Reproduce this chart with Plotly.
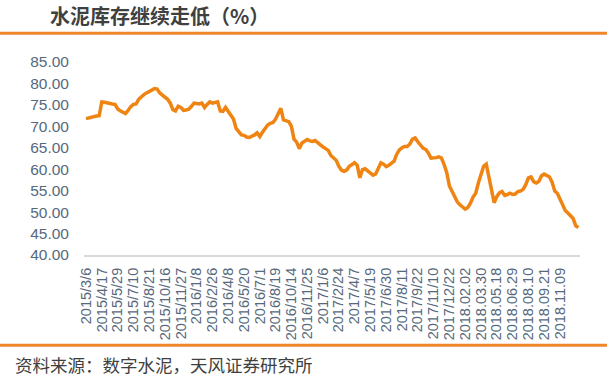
import plotly.graph_objects as go

# ---- data (weekly cement inventory ratio, %) ----
values = [
    71.8, 72.0, 72.2, 72.4, 72.4, 72.5, 75.7, 75.6, 75.4, 75.3,
    75.2, 75.1, 74.1, 73.6, 73.3, 73.0, 73.7, 74.6, 75.1, 75.2,
    76.3, 76.9, 77.4, 77.8, 78.1, 78.4, 78.8, 78.7, 77.8, 77.3,
    76.9, 76.3, 75.4, 73.9, 73.6, 74.7, 74.4, 73.7, 73.8, 74.0,
    74.6, 75.4, 75.3, 75.2, 75.4, 74.4, 75.1, 75.7, 75.4, 75.6,
    75.7, 73.6, 73.5, 74.4, 73.6, 72.7, 71.7, 69.5, 68.6, 68.0,
    67.9, 67.5, 67.4, 67.6, 68.0, 68.5, 67.6, 68.6, 69.6, 70.3,
    70.7, 70.9, 71.7, 73.2, 74.2, 71.5, 71.3, 71.1, 70.0, 67.0,
    66.3, 64.8, 66.1, 66.6, 66.9, 66.6, 66.5, 66.7, 66.3, 65.7,
    65.2, 64.9, 64.4, 63.2, 62.7, 62.1, 60.7, 59.8, 59.5, 59.8,
    60.7, 61.1, 61.5, 60.9, 58.0, 59.9, 60.1, 59.6, 59.2, 58.6,
    58.9, 60.1, 61.5, 61.2, 60.6, 60.9, 61.4, 61.9, 63.5, 64.5,
    65.0, 65.3, 65.3, 65.9, 67.0, 67.3, 66.4, 65.6, 64.9, 64.6,
    63.8, 62.6, 62.6, 62.7, 62.9, 62.6, 61.1, 59.2, 56.1, 54.7,
    53.8, 52.4, 51.7, 51.1, 50.7, 51.1, 52.1, 53.5, 54.4, 56.8,
    58.7, 60.7, 61.2, 58.4, 55.8, 52.2, 53.6, 54.5, 54.8, 53.9,
    54.1, 54.4, 54.1, 54.2, 54.8, 54.9, 55.3, 56.4, 58.0, 58.2,
    57.1, 56.8, 57.2, 58.5, 58.9, 58.5, 58.2, 57.0, 54.9, 54.4,
    53.1, 51.6, 50.4, 49.8, 49.0, 48.5, 46.8, 46.4,
]

tick_labels = [
    "2015/3/6", "2015/4/17", "2015/5/29", "2015/7/10", "2015/8/21",
    "2015/10/16", "2015/11/27", "2016/1/8", "2016/2/26", "2016/4/8",
    "2016/5/20", "2016/7/1", "2016/8/19", "2016/10/14", "2016/11/25",
    "2017/1/6", "2017/2/24", "2017/4/7", "2017/5/19", "2017/6/30",
    "2017/8/11", "2017/9/22", "2017/11/10", "2017/12/22", "2018.02.02",
    "2018.03.30", "2018.05.18", "2018.06.29", "2018.08.10", "2018.09.21",
    "2018.11.09",
]
label_step = 6

title_text = "水泥库存继续走低（%）"
source_text = "资料来源：数字水泥，天风证券研究所"

# ---- layout geometry (pixels) ----
W, H = 607, 386
PL, PR, PT, PB = 84, 580, 61.7, 255
pw, ph = PR - PL, PB - PT

def px_x(x):
    return (x - PL) / pw

def px_y(y):
    return (PB - y) / ph

x = list(range(len(values)))
tickvals = [i * label_step for i in range(len(tick_labels))]

fig = go.Figure()
fig.add_trace(go.Scatter(
    x=x, y=values, mode="lines",
    line=dict(color="#EF8412", width=3.5),
    hoverinfo="skip", showlegend=False,
))

orange = "#F0852A"
fig.update_layout(
    width=W, height=H,
    margin=dict(l=PL, r=W - PR, t=PT, b=H - PB, pad=0),
    paper_bgcolor="white", plot_bgcolor="white",
    showlegend=False,
    xaxis=dict(
        range=[-0.76, 187.6],
        tickmode="array", tickvals=tickvals, ticktext=tick_labels,
        tickangle=-90,
        tickfont=dict(family="Liberation Sans", size=14.5, color="#56697D"),
        showgrid=False, zeroline=False,
        showline=True, linecolor="#D9D9D9", linewidth=2,
        ticks="", ticklabelstandoff=5,
    ),
    yaxis=dict(
        range=[40, 85], dtick=5, tick0=40, tickformat=".2f",
        tickfont=dict(family="Liberation Sans", size=15.5, color="#56697D"),
        showgrid=False, zeroline=False, showline=False,
        ticks="", ticklabelstandoff=14,
    ),
    shapes=[
        dict(type="line", xref="paper", yref="paper",
             x0=px_x(0), x1=px_x(W), y0=px_y(33), y1=px_y(33),
             line=dict(color=orange, width=3)),
        dict(type="line", xref="paper", yref="paper",
             x0=px_x(0), x1=px_x(W), y0=px_y(345.5), y1=px_y(345.5),
             line=dict(color=orange, width=3)),
    ],
    annotations=[
        dict(text="<b>" + title_text + "</b>", xref="paper", yref="paper",
             x=px_x(48), y=px_y(15), xanchor="left", yanchor="middle",
             showarrow=False,
             font=dict(family="Noto Sans CJK SC", size=20, color="#404040")),
        dict(text=source_text, xref="paper", yref="paper",
             x=px_x(13), y=px_y(365), xanchor="left", yanchor="middle",
             showarrow=False,
             font=dict(family="Noto Sans CJK SC", size=17.5, color="#404040")),
    ],
)

fig.write_html(
    "out.html",
    config={"displayModeBar": False},
    post_script="document.body.style.margin='0';document.body.style.overflow='hidden';",
)
